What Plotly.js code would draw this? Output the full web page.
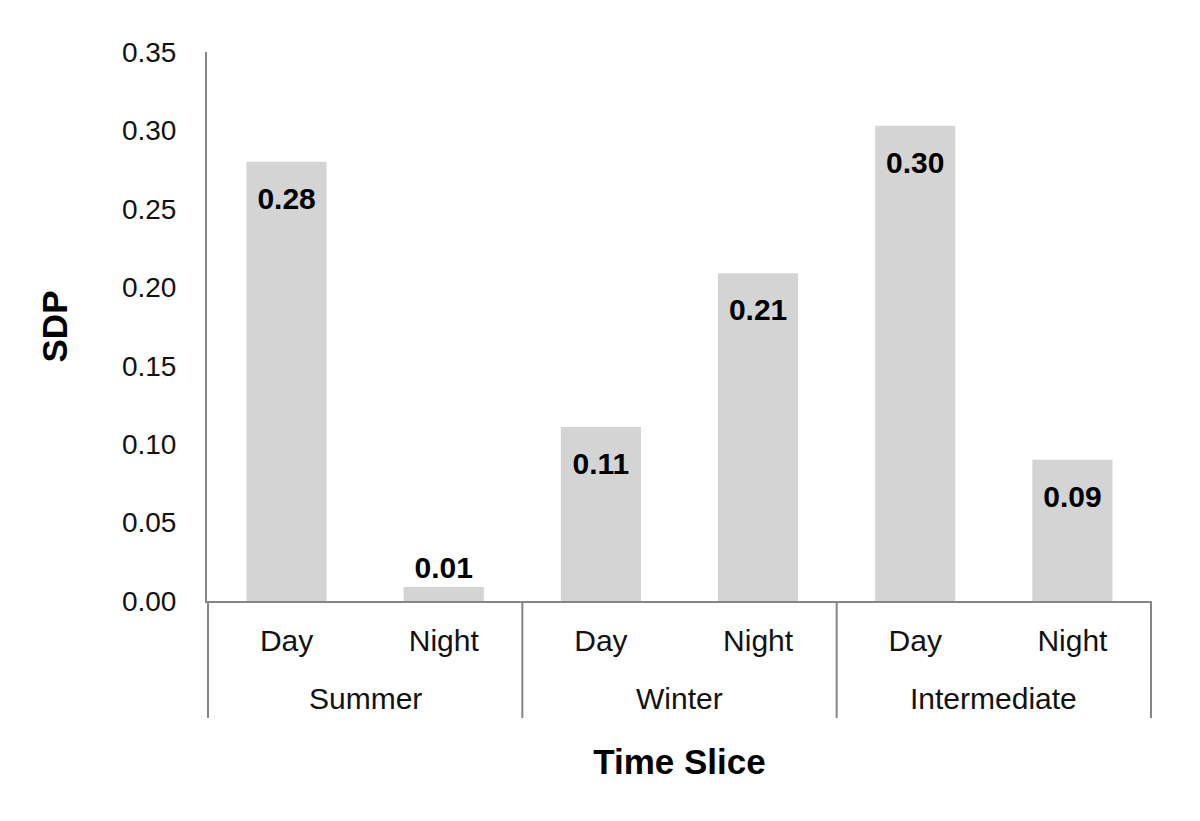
<!DOCTYPE html>
<html>
<head>
<meta charset="utf-8">
<script src="https://cdn.plot.ly/plotly-3.0.1.min.js"></script>
<style>
  body { margin: 0; background: #fff; }
  #plot { width: 1200px; height: 821px; }
</style>
</head>
<body>
<div id="plot"></div>
<script>
// values
var seasons = ['Summer', 'Summer', 'Winter', 'Winter', 'Intermediate', 'Intermediate'];
var slices = ['Day', 'Night', 'Day', 'Night', 'Day', 'Night'];
var sdp = [0.28, 0.009, 0.111, 0.209, 0.303, 0.09];
var labelPos = ['bottom center', 'top center', 'bottom center', 'bottom center', 'bottom center', 'bottom center'];

var FONT = 'Liberation Sans, Arial, sans-serif';
var AXIS_GREY = '#868686';

// one unique category per bar, shown with the slice name only
var cats = seasons.map((s, i) => s + ' ' + slices[i]);

// season groups: index of first and last bar in each
var groups = [];
seasons.forEach(function(s, i) {
  var g = groups.find(g => g.name === s);
  if (g) g.last = i;
  else groups.push({ name: s, first: i, last: i });
});

var bars = {
  x: cats,
  y: sdp,
  type: 'bar',
  marker: { color: '#d4d4d4' },
  hoverinfo: 'skip'
};

// value labels; an invisible marker pushes the ones inside the bar down a bit
var labels = {
  x: cats,
  y: sdp,
  type: 'scatter',
  mode: 'markers+text',
  text: sdp.map(v => v.toFixed(2)),
  textposition: labelPos,
  textfont: { family: FONT, size: 30, color: '#000', weight: 'bold' },
  marker: { size: labelPos.map(p => p.startsWith('top') ? 1 : 38), opacity: 0 },
  hoverinfo: 'skip'
};

// second level of the x axis: season names under their bars
var seasonLabels = groups.map(g => ({
  x: (g.first + g.last) / 2,
  xref: 'x',
  y: 0,
  yref: 'paper',
  yanchor: 'middle',
  yshift: -97,
  text: g.name,
  showarrow: false,
  font: { family: FONT, size: 30, color: '#111' }
}));

// dividers at the group edges
var edges = [groups[0].first - 0.5].concat(groups.map(g => g.last + 0.5));
var dividers = edges.map(e => ({
  type: 'line',
  xref: 'x',
  x0: e,
  x1: e,
  yref: 'paper',
  ysizemode: 'pixel',
  yanchor: 0,
  y0: 0,
  y1: -117,
  line: { color: AXIS_GREY, width: 2 }
}));

var layout = {
  width: 1200,
  height: 821,
  margin: { l: 207, r: 48, t: 52, b: 220 },
  showlegend: false,
  bargap: 0.49,
  paper_bgcolor: '#fff',
  plot_bgcolor: '#fff',
  font: { family: FONT, size: 28, color: '#111' },
  annotations: seasonLabels,
  shapes: dividers,
  xaxis: {
    type: 'category',
    tickvals: cats,
    ticktext: slices,
    showline: true,
    linecolor: AXIS_GREY,
    linewidth: 2,
    ticks: '',
    ticklabelstandoff: 12,
    tickfont: { family: FONT, size: 30, color: '#111' },
    title: {
      text: 'Time Slice',
      font: { family: FONT, size: 35, color: '#000', weight: 'bold' },
      standoff: 93
    },
    automargin: false
  },
  yaxis: {
    range: [0, 0.35],
    dtick: 0.05,
    tickformat: '.2f',
    showgrid: false,
    zeroline: false,
    showline: true,
    linecolor: AXIS_GREY,
    linewidth: 2,
    ticks: '',
    ticklabelstandoff: 23,
    tickfont: { family: FONT, size: 28, color: '#111' },
    title: {
      text: 'SDP',
      font: { family: FONT, size: 35, color: '#000', weight: 'bold' },
      standoff: 44
    },
    automargin: false
  }
};

Plotly.newPlot('plot', [bars, labels], layout, { displayModeBar: false, staticPlot: true });
</script>
</body>
</html>
